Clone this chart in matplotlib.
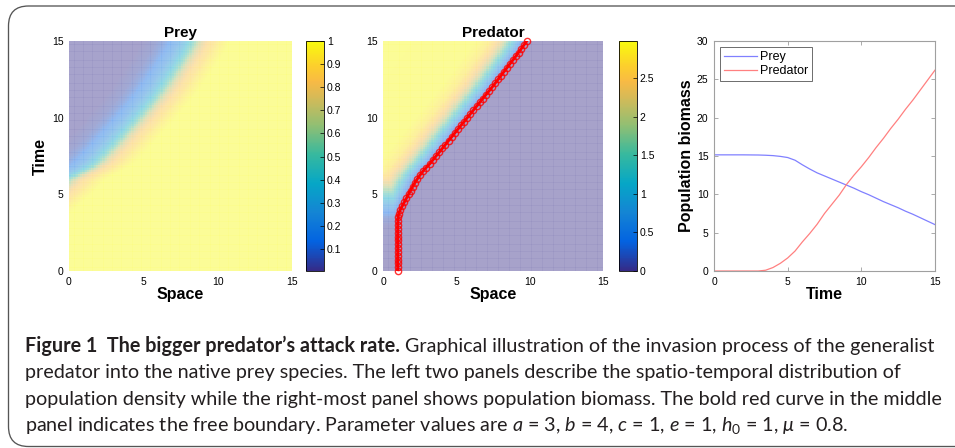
import numpy as np
import matplotlib
matplotlib.use('Agg')
import matplotlib.pyplot as plt
from matplotlib.colors import LinearSegmentedColormap, Normalize
from matplotlib.cm import ScalarMappable
from matplotlib.patches import FancyBboxPatch
from matplotlib.transforms import IdentityTransform
from matplotlib import font_manager

# ---------------- values ----------------
# free boundary h(t) (red curve in the predator panel), sampled every 0.25 in time
boundary_t = np.arange(0, 15.001, 0.25)
boundary_x = [1.0] * 13 + [
    1.01, 1.03, 1.08, 1.18, 1.32, 1.46, 1.6, 1.74, 1.88, 2.02, 2.17, 2.34, 2.52, 2.72, 2.95, 3.2,
    3.41, 3.62, 3.84, 4.05, 4.26, 4.47, 4.69, 4.9, 5.11, 5.32, 5.54, 5.75, 5.96, 6.17, 6.39, 6.6,
    6.81, 7.02, 7.24, 7.45, 7.65, 7.85, 8.05, 8.25, 8.45, 8.65, 8.85, 9.05, 9.24, 9.43, 9.62, 9.8]

# predator density at the left edge over time, and its profile behind the boundary
pred_amp_t = [0, 3, 3.5, 4, 4.5, 5, 5.5, 6, 6.5, 7, 8, 15]
pred_amp = [0, 0.05, 0.2, 0.5, 0.9, 1.4, 2.0, 2.5, 2.8, 2.92, 2.97, 3.0]
pred_prof_d = [0, 0.3, 0.6, 0.9, 1.2, 1.5, 1.8, 2.1, 2.5, 3.0, 3.5, 15]
pred_prof = [0, 0.3, 0.7, 1.15, 1.6, 2.05, 2.35, 2.55, 2.75, 2.88, 2.95, 3.0]

# prey half-density front position over time, and prey profile across it
prey_front_t = [0, 3, 4, 4.5, 5, 5.5, 6, 6.5, 7, 8, 9, 10, 11, 12, 13, 14, 15]
prey_front_x = [-4, -3, -2.2, -1.6, -1.0, -0.5, 0, 1.0, 1.85, 2.85, 3.8, 4.7, 5.6, 6.4, 7.1, 7.8, 8.4]
prey_prof_s = [-15, -2.5, -2, -1.5, -1, -0.5, 0, 0.5, 1, 1.5, 2, 2.5, 3.5, 15]
prey_prof = [1, 1, 0.96, 0.9, 0.84, 0.72, 0.5, 0.33, 0.22, 0.15, 0.08, 0.04, 0.01, 0.01]

# population biomass curves
bio_t = [0, 1, 2, 3, 3.5, 4, 4.5, 5, 5.5, 6, 6.5, 7, 7.5, 8, 8.5, 9, 9.5, 10, 10.5,
         11, 11.5, 12, 12.5, 13, 13.5, 14, 14.5, 15]
bio_prey = [15.15, 15.15, 15.15, 15.13, 15.1, 15.05, 14.95, 14.8, 14.45, 13.85, 13.3, 12.8, 12.4,
            12.0, 11.6, 11.2, 10.8, 10.35, 9.95, 9.5, 9.05, 8.65, 8.25, 7.8, 7.4, 6.95, 6.5, 6.05]
bio_pred = [0, 0, 0, 0, 0.1, 0.45, 1.0, 1.7, 2.6, 3.8, 4.9, 6.1, 7.5, 8.7, 9.9, 11.3, 12.5,
            13.6, 14.8, 16.1, 17.3, 18.6, 19.8, 21.1, 22.3, 23.6, 24.9, 26.2]

ticks15 = [0, 5, 10, 15]
prey_cb_ticks = [0.1, 0.2, 0.3, 0.4, 0.5, 0.6, 0.7, 0.8, 0.9, 1]
pred_cb_ticks = [0, 0.5, 1, 1.5, 2, 2.5]

caption_bold = "Figure 1  The bigger predator\u2019s attack rate."
caption_lines = [
    " Graphical illustration of the invasion process of the generalist",
    "predator into the native prey species. The left two panels describe the spatio-temporal distribution of",
    "population density while the right-most panel shows population biomass. The bold red curve in the middle",
    r"panel indicates the free boundary. Parameter values are $a$ = 3, $b$ = 4, $c$ = 1, $e$ = 1, $h_0$ = 1, $\mu$ = 0.8.",
]

# ---------------- styling ----------------
parula_pts = [
    (0 / 63, (0.2081, 0.1663, 0.5292)),
    (8 / 63, (0.0117, 0.3875, 0.8820)),
    (16 / 63, (0.0793, 0.5200, 0.8312)),
    (24 / 63, (0.0228, 0.6535, 0.7768)),
    (32 / 63, (0.2178, 0.7250, 0.6193)),
    (40 / 63, (0.5709, 0.7485, 0.4494)),
    (48 / 63, (0.8507, 0.7299, 0.3360)),
    (52 / 63, (0.9739, 0.7314, 0.2666)),
    (56 / 63, (0.9880, 0.8066, 0.1794)),
    (63 / 63, (0.9763, 0.9831, 0.0538)),
]
parula = LinearSegmentedColormap.from_list('parula', parula_pts)


def has_font(name):
    try:
        font_manager.findfont(name, fallback_to_default=False)
        return True
    except Exception:
        return False


cap_font = 'Liberation Sans Narrow' if has_font('Liberation Sans Narrow') else 'Lato'
plt.rcParams['font.family'] = ['Liberation Sans', 'DejaVu Sans']
plt.rcParams['mathtext.fontset'] = 'custom'
plt.rcParams['mathtext.rm'] = cap_font
plt.rcParams['mathtext.it'] = cap_font + ':italic'
plt.rcParams['mathtext.bf'] = cap_font + ':bold'

W, H = 955, 448
fig = plt.figure(figsize=(W / 100, H / 100), dpi=100)


def px_axes(l, t, r, b):
    return fig.add_axes([l / W, 1 - b / H, (r - l) / W, (b - t) / H])


# ---------------- fields ----------------
edges = np.linspace(0, 15, 101)
cent = 0.5 * (edges[:-1] + edges[1:])
XX, TT = np.meshgrid(cent, cent)

h_t = np.interp(TT, boundary_t, boundary_x)
dist = h_t - XX
pred = np.minimum(np.interp(TT, pred_amp_t, pred_amp), np.interp(np.clip(dist, 0, None), pred_prof_d, pred_prof))
pred[dist <= 0] = 0

p_t = np.interp(TT, prey_front_t, prey_front_x)
prey = np.interp(p_t - XX, prey_prof_s, prey_prof)

TICK_FS = 7.5


def heat_panel(ax, field, vmin, vmax, title):
    ax.pcolormesh(edges, edges, field, cmap=parula, vmin=vmin, vmax=vmax, alpha=0.5,
                  shading='flat', edgecolors='none', rasterized=True)
    ax.vlines(edges, 0, 15, colors='white', linewidth=0.35, alpha=0.3)
    ax.hlines(edges, 0, 15, colors='white', linewidth=0.35, alpha=0.3)
    ax.set_xlim(0, 15)
    ax.set_ylim(0, 15)
    ax.set_xticks(ticks15)
    ax.set_yticks(ticks15)
    ax.tick_params(length=0, labelsize=TICK_FS, pad=4)
    for s in ax.spines.values():
        s.set_visible(False)
    ax.set_title(title, fontsize=11, fontweight='bold', pad=3)
    ax.set_xlabel('Space', fontsize=11.5, fontweight='bold', labelpad=0)


def colorbar(cax, vmin, vmax, ticks):
    sm = ScalarMappable(norm=Normalize(vmin, vmax), cmap=parula)
    cb = fig.colorbar(sm, cax=cax)
    cb.set_ticks(ticks)
    cb.ax.set_yticklabels([f'{v:g}' for v in ticks])
    cb.ax.tick_params(direction='in', length=3, width=0.5, labelsize=TICK_FS, pad=2)
    cb.outline.set_linewidth(0.6)


ax1 = px_axes(69, 41, 292, 271)
heat_panel(ax1, prey, 0.005, 1.0, 'Prey')
ax1.set_ylabel('Time', fontsize=11.5, fontweight='bold', labelpad=3)
colorbar(px_axes(306, 41, 324, 271), 0.005, 1.0, prey_cb_ticks)

ax2 = px_axes(383, 41, 603, 271)
heat_panel(ax2, pred, 0, 2.98, 'Predator')
ax2.plot(boundary_x, boundary_t, '-', color='red', linewidth=2, zorder=5)
ax2.plot(boundary_x, boundary_t, 'o', color='red', mfc='none', mew=1.0, ms=4.5,
         alpha=0.8, clip_on=False, zorder=6)
colorbar(px_axes(619, 41, 637, 271), 0, 2.98, pred_cb_ticks)

ax3 = px_axes(714, 41, 935, 271)
ax3.plot(bio_t, bio_prey, color='#8080ff', linewidth=0.9, label='Prey')
ax3.plot(bio_t, bio_pred, color='#ff8080', linewidth=0.9, label='Predator')
ax3.set_xlim(0, 15)
ax3.set_ylim(0, 30)
ax3.set_xticks(ticks15)
ax3.set_yticks([0, 5, 10, 15, 20, 25, 30])
ax3.tick_params(direction='in', length=3, width=0.5, labelsize=TICK_FS, pad=4,
                top=True, right=True, color='#888888')
for s in ax3.spines.values():
    s.set_color('#a0a0a0')
    s.set_linewidth(0.8)
ax3.set_xlabel('Time', fontsize=11.5, fontweight='bold', labelpad=0)
ax3.set_ylabel('Population biomass', fontsize=11.5, fontweight='bold', labelpad=2)
leg = ax3.legend(loc='upper left', fontsize=9, frameon=True, fancybox=False, framealpha=1,
                 edgecolor='#555555', handlelength=2.6, borderpad=0.3, labelspacing=0.15,
                 handletextpad=0.3, borderaxespad=0.5)
leg.get_frame().set_linewidth(0.6)

# ---------------- frame and caption ----------------
frame = FancyBboxPatch((8.5, 1.5), 1200, 440.5, boxstyle='round,pad=0,rounding_size=20',
                       transform=IdentityTransform(), facecolor='none', edgecolor='#555555',
                       linewidth=0.95, clip_on=False)
fig.patches.append(frame)

cap_color = '#231f20'
baselines = [96.3, 70.0, 43.0, 17.0]
cap_x = 25
fs = 13.0
t_bold = fig.text(cap_x, baselines[0], caption_bold, transform=IdentityTransform(),
                  fontsize=fs, fontweight='bold', family=cap_font, color=cap_color, va='baseline')
t_lines = []
for i, line in enumerate(caption_lines):
    t_lines.append(fig.text(cap_x, baselines[i], line, transform=IdentityTransform(),
                            fontsize=fs, family=cap_font, color=cap_color, va='baseline'))

renderer = fig.canvas.get_renderer()
wb = t_bold.get_window_extent(renderer).width
wr = t_lines[0].get_window_extent(renderer).width
scale = 909.0 / (wb + wr)
for t in [t_bold] + t_lines:
    t.set_fontsize(fs * scale)
wb = t_bold.get_window_extent(renderer).width
t_lines[0].set_x(cap_x + wb)

fig.savefig('out.png', dpi=100)
